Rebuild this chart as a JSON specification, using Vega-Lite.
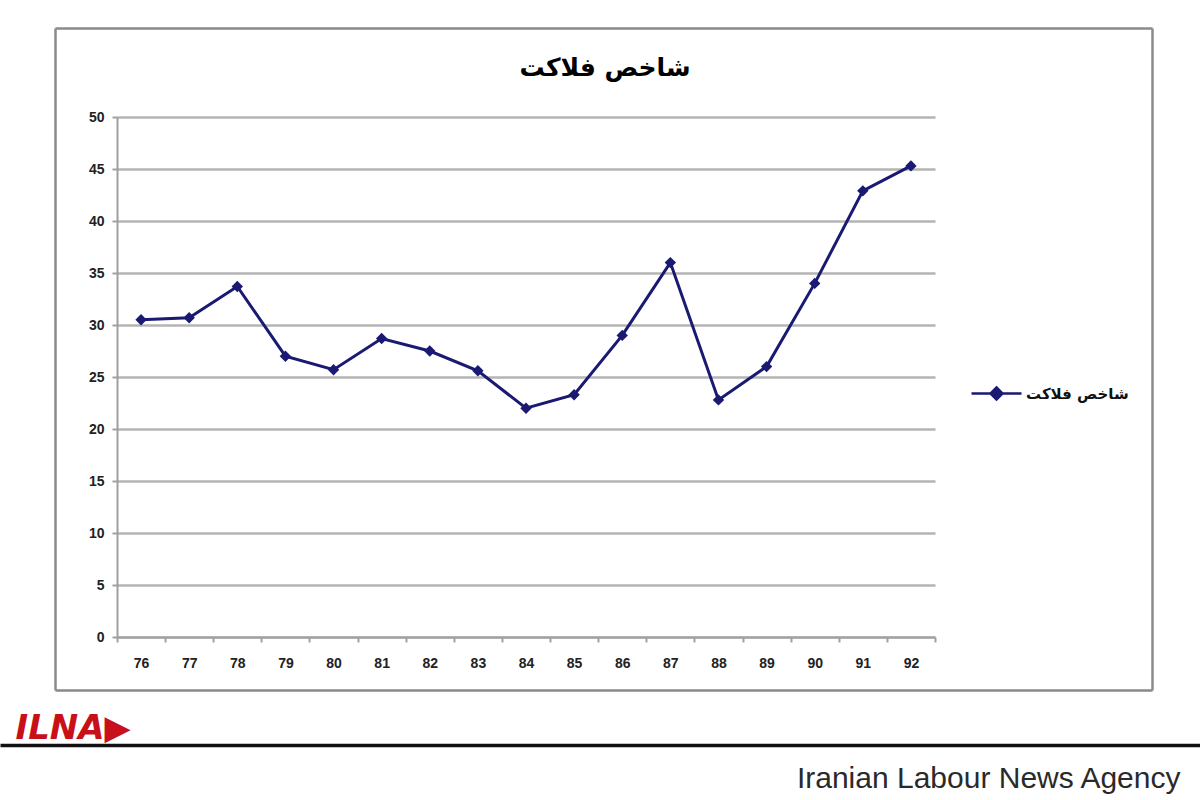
{
  "$schema": "https://vega.github.io/schema/vega-lite/v6.json",
  "width": 818,
  "height": 520,
  "autosize": "none",
  "padding": {"left": 117, "top": 117, "right": 265, "bottom": 163},
  "background": "white",
  "config": {"view": {"stroke": null}},
  "title": {
    "text": "شاخص فلاکت",
    "font": "DejaVu Sans",
    "fontSize": 25,
    "fontWeight": "bold",
    "color": "black",
    "anchor": "middle",
    "frame": "group",
    "dx": 79,
    "offset": -53
  },
  "datasets": {
    "misery": [
      {"year": "76", "value": 30.5, "series": "شاخص فلاکت"},
      {"year": "77", "value": 30.7, "series": "شاخص فلاکت"},
      {"year": "78", "value": 33.7, "series": "شاخص فلاکت"},
      {"year": "79", "value": 27.0, "series": "شاخص فلاکت"},
      {"year": "80", "value": 25.7, "series": "شاخص فلاکت"},
      {"year": "81", "value": 28.7, "series": "شاخص فلاکت"},
      {"year": "82", "value": 27.5, "series": "شاخص فلاکت"},
      {"year": "83", "value": 25.6, "series": "شاخص فلاکت"},
      {"year": "84", "value": 22.0, "series": "شاخص فلاکت"},
      {"year": "85", "value": 23.3, "series": "شاخص فلاکت"},
      {"year": "86", "value": 29.0, "series": "شاخص فلاکت"},
      {"year": "87", "value": 36.0, "series": "شاخص فلاکت"},
      {"year": "88", "value": 22.8, "series": "شاخص فلاکت"},
      {"year": "89", "value": 26.0, "series": "شاخص فلاکت"},
      {"year": "90", "value": 34.0, "series": "شاخص فلاکت"},
      {"year": "91", "value": 42.9, "series": "شاخص فلاکت"},
      {"year": "92", "value": 45.3, "series": "شاخص فلاکت"}
    ]
  },
  "data": {"name": "misery"},
  "layer": [
    {
      "mark": {"type": "line", "strokeWidth": 3, "point": {"shape": "diamond", "size": 130, "filled": true, "opacity": 1}},
      "encoding": {
        "x": {
          "field": "year",
          "type": "ordinal",
          "bandPosition": 0.5,
          "scale": {"type": "band", "paddingInner": 0, "paddingOuter": 0},
          "axis": {
            "title": "Iranian Labour News Agency",
            "titleFont": "Liberation Sans",
            "titleFontSize": 30,
            "titleFontWeight": "normal",
            "titleColor": "#2a2a2a",
            "titleAlign": "right",
            "titleBaseline": "alphabetic",
            "titleAnchor": null,
            "titleX": 1063,
            "titleY": 150,
            "labelAngle": 0,
            "labelFont": "Liberation Sans",
            "labelFontSize": 14,
            "labelFontWeight": "bold",
            "labelColor": "#222222",
            "labelPadding": 14,
            "tickBand": "extent",
            "tickColor": "#a0a0a0",
            "tickSize": 5,
            "tickWidth": 2,
            "domainColor": "#a0a0a0",
            "domainWidth": 2,
            "grid": false
          }
        },
        "y": {
          "field": "value",
          "type": "quantitative",
          "scale": {"domain": [0, 50], "nice": false, "zero": true},
          "axis": {
            "values": [0, 5, 10, 15, 20, 25, 30, 35, 40, 45, 50],
            "title": "ILNA▶",
            "titleFont": "DejaVu Sans",
            "titleFontSize": 34,
            "titleFontWeight": "bold",
            "titleFontStyle": "italic",
            "titleColor": "#c8101a",
            "titleAngle": 0,
            "titleAlign": "left",
            "titleBaseline": "alphabetic",
            "titleAnchor": null,
            "titleX": -102,
            "titleY": 621,
            "labelFont": "Liberation Sans",
            "labelFontSize": 14,
            "labelFontWeight": "bold",
            "labelColor": "#222222",
            "labelPadding": 8,
            "tickColor": "#a0a0a0",
            "tickSize": 5,
            "tickWidth": 2,
            "domainColor": "#a0a0a0",
            "domainWidth": 2,
            "grid": true,
            "gridColor": "#b4b4b4",
            "gridWidth": 2.5
          }
        },
        "color": {
          "field": "series",
          "type": "nominal",
          "scale": {"range": ["#1a1a72"]},
          "legend": {
            "title": null,
            "orient": "none",
            "legendX": 853,
            "legendY": 250,
            "symbolType": "M-1,0H1M0,-0.24L0.24,0L0,0.24L-0.24,0Z",
            "symbolSize": 2500,
            "symbolStrokeWidth": 2.5,
            "symbolFillColor": "#1a1a72",
            "symbolStrokeColor": "#1a1a72",
            "labelFont": "DejaVu Sans",
            "labelFontSize": 15,
            "labelFontWeight": "bold",
            "labelColor": "#111111",
            "labelOffset": 3
          }
        }
      }
    },
    {
      "mark": {"type": "point", "opacity": 0},
      "encoding": {
        "x": {"datum": 0, "type": "quantitative", "scale": {"domain": [0, 1], "range": [-62, 1035]},
          "axis": {"orient": "bottom", "offset": 53, "labels": false, "ticks": false, "grid": false, "title": null, "domainColor": "#8a8a8a", "domainWidth": 2.5}},
        "y": {"datum": 0, "type": "quantitative", "axis": null}
      }
    },
    {
      "mark": {"type": "point", "opacity": 0},
      "encoding": {
        "x": {"datum": 0, "type": "quantitative", "scale": {"domain": [0, 1], "range": [-62, 1035]},
          "axis": {"orient": "top", "offset": 89, "labels": false, "ticks": false, "grid": false, "title": null, "domainColor": "#8a8a8a", "domainWidth": 2.5}},
        "y": {"datum": 0, "type": "quantitative", "axis": null}
      }
    },
    {
      "mark": {"type": "point", "opacity": 0},
      "encoding": {
        "x": {"datum": 0, "type": "quantitative", "scale": {"domain": [0, 1], "range": [-117, 1083]},
          "axis": {"orient": "bottom", "offset": 108, "labels": false, "ticks": false, "grid": false, "title": null, "domainColor": "#111111", "domainWidth": 3.5}},
        "y": {"datum": 0, "type": "quantitative", "axis": null}
      }
    },
    {
      "mark": {"type": "point", "opacity": 0},
      "encoding": {
        "x": {"datum": 0, "type": "quantitative", "axis": null},
        "y": {"datum": 0, "type": "quantitative", "scale": {"domain": [0, 1], "range": [573, -89]},
          "axis": {"orient": "left", "offset": 62, "labels": false, "ticks": false, "grid": false, "title": null, "domainColor": "#8a8a8a", "domainWidth": 2.5}}
      }
    },
    {
      "mark": {"type": "point", "opacity": 0},
      "encoding": {
        "x": {"datum": 0, "type": "quantitative", "axis": null},
        "y": {"datum": 0, "type": "quantitative", "scale": {"domain": [0, 1], "range": [573, -89]},
          "axis": {"orient": "right", "offset": 217, "labels": false, "ticks": false, "grid": false, "title": null, "domainColor": "#8a8a8a", "domainWidth": 2.5}}
      }
    }
  ],
  "resolve": {
    "scale": {"x": "independent", "y": "independent"},
    "axis": {"x": "independent", "y": "independent"}
  }
}
